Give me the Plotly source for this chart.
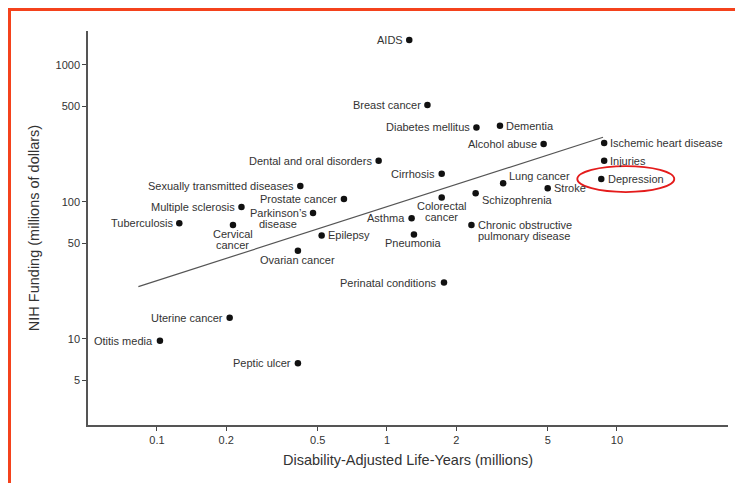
import numpy as np
import plotly.graph_objects as go

# Disease burden (DALYs, millions) vs NIH funding (millions of dollars)
diseases = [
    "AIDS", "Breast cancer", "Diabetes mellitus", "Dementia", "Alcohol abuse",
    "Ischemic heart disease", "Injuries", "Depression", "Dental and oral disorders",
    "Cirrhosis", "Lung cancer", "Stroke", "Colorectal\ncancer", "Schizophrenia",
    "Asthma", "Chronic obstructive\npulmonary disease", "Pneumonia", "Epilepsy",
    "Sexually transmitted diseases", "Prostate cancer", "Multiple sclerosis",
    "Parkinson\u2019s\ndisease", "Tuberculosis", "Cervical\ncancer", "Ovarian cancer",
    "Perinatal conditions", "Uterine cancer", "Otitis media", "Peptic ulcer",
]
daly_millions = [
    1.25, 1.50, 2.45, 3.10, 4.80,
    8.80, 8.80, 8.55, 0.92,
    1.73, 3.20, 5.00, 1.73, 2.43,
    1.28, 2.33, 1.31, 0.52,
    0.42, 0.65, 0.233,
    0.477, 0.125, 0.214, 0.41,
    1.77, 0.207, 0.103, 0.41,
]
nih_funding = [
    1520, 510, 350, 360, 265,
    270, 200, 147, 200,
    161, 137, 126, 108, 116,
    76, 68, 58, 57,
    131, 105, 92,
    83, 70, 68, 44,
    25.8, 14.3, 9.7, 6.65,
]

# Regression line (log-log), end points
trend_daly = [0.083, 8.7]
trend_funding = [24.1, 297]

x_ticks = [0.1, 0.2, 0.5, 1, 2, 5, 10]
x_ticktext = ["0.1", "0.2", "0.5", "1", "2", "5", "10"]
y_ticks = [5, 10, 50, 100, 500, 1000]
y_ticktext = ["5", "10", "50", "100", "500", "1000"]

highlighted = "Depression"

# Label placement around each dot
LEFT, RIGHT, BELOW = "left", "right", "below"
placement = {
    "AIDS": LEFT, "Breast cancer": LEFT, "Diabetes mellitus": LEFT,
    "Dementia": RIGHT, "Alcohol abuse": LEFT, "Ischemic heart disease": RIGHT,
    "Injuries": RIGHT, "Depression": RIGHT, "Dental and oral disorders": LEFT,
    "Cirrhosis": LEFT, "Lung cancer": RIGHT, "Stroke": RIGHT,
    "Colorectal\ncancer": BELOW, "Schizophrenia": RIGHT, "Asthma": LEFT,
    "Chronic obstructive\npulmonary disease": RIGHT, "Pneumonia": BELOW,
    "Epilepsy": RIGHT, "Sexually transmitted diseases": LEFT,
    "Prostate cancer": LEFT, "Multiple sclerosis": LEFT,
    "Parkinson\u2019s\ndisease": LEFT, "Tuberculosis": LEFT,
    "Cervical\ncancer": BELOW, "Ovarian cancer": BELOW,
    "Perinatal conditions": LEFT, "Uterine cancer": LEFT,
    "Otitis media": LEFT, "Peptic ulcer": LEFT,
}
# extra vertical nudges (pixels, up positive)
nudge_y = {"Lung cancer": 7.5, "Schizophrenia": -6.5}

TEXT = "#333333"
FONT = "Liberation Sans, Arial, Helvetica, sans-serif"
LINE_H = 11

W, H = 735, 483
M_L, M_R, M_T, M_B = 88, 7, 31, 58
plot_w, plot_h = W - M_L - M_R, H - M_T - M_B
X_RANGE = [-1.3, 1.483]
Y_RANGE = [0.372, 3.248]

fig = go.Figure()

fig.add_trace(go.Scatter(
    x=trend_daly, y=trend_funding, mode="lines",
    line=dict(color="#555555", width=1.2),
    hoverinfo="skip", showlegend=False,
))

fig.add_trace(go.Scatter(
    x=daly_millions, y=nih_funding, mode="markers",
    marker=dict(color="#111111", size=6.5),
    text=[d.replace("\n", " ") for d in diseases],
    hovertemplate="%{text}<br>DALYs: %{x}M<br>Funding: $%{y}M<extra></extra>",
    showlegend=False,
))

annotations = []
for name, dx, fy in zip(diseases, daly_millions, nih_funding):
    lines = name.split("\n")
    side = placement[name]
    base_dy = nudge_y.get(name, 0)
    for i, line in enumerate(lines):
        if side == LEFT:
            xanchor, xshift, yshift = "right", -6.5, base_dy - LINE_H * i
            if i > 0:
                # centre the continuation line under the first one
                xanchor, xshift = "center", -35
        elif side == RIGHT:
            xanchor, xshift, yshift = "left", 6.3, base_dy - LINE_H * i
        else:
            xanchor, xshift, yshift = "center", 0, -9 - LINE_H * i
        annotations.append(dict(
            x=np.log10(dx), y=np.log10(fy), xref="x", yref="y",
            text=line, showarrow=False, xanchor=xanchor, yanchor="middle",
            xshift=xshift, yshift=yshift, borderpad=0, borderwidth=0,
            font=dict(family=FONT, size=11, color=TEXT),
        ))

# highlight ring around the emphasised disease (offsets in pixels from its dot)
x_px_per_decade = plot_w / (X_RANGE[1] - X_RANGE[0])
y_px_per_decade = plot_h / (Y_RANGE[1] - Y_RANGE[0])
hi = diseases.index(highlighted)
hx, hy = daly_millions[hi], nih_funding[hi]
shapes = [dict(
    type="circle", xref="x", yref="y",
    x0=hx * 10 ** (-24 / x_px_per_decade), x1=hx * 10 ** (73 / x_px_per_decade),
    y0=hy * 10 ** (-13 / y_px_per_decade), y1=hy * 10 ** (13 / y_px_per_decade),
    line=dict(color="#e41b1b", width=1.8),
)]


def px_x(p):
    return (p - M_L) / plot_w


def px_y(p):
    return (H - M_B - p) / plot_h


# orange frame on the top and left edges of the page
shapes.append(dict(
    type="path", xref="paper", yref="paper",
    path=f"M {px_x(W + 5)},{px_y(9.5)} L {px_x(9.5)},{px_y(9.5)} L {px_x(9.5)},{px_y(H + 5)}",
    line=dict(color="#f4421c", width=3),
))

fig.update_layout(
    width=W, height=H,
    margin=dict(l=M_L, r=M_R, t=M_T, b=M_B),
    paper_bgcolor="white", plot_bgcolor="white",
    font=dict(family=FONT, color=TEXT),
    annotations=annotations, shapes=shapes,
    xaxis=dict(
        type="log", range=X_RANGE,
        tickvals=x_ticks, ticktext=x_ticktext,
        ticks="outside", ticklen=4, tickwidth=1, tickcolor="#444444",
        showline=True, linecolor="#555555", linewidth=1.5,
        showgrid=False, zeroline=False,
        tickfont=dict(family=FONT, size=11, color=TEXT),
        title=dict(text="Disability-Adjusted Life-Years (millions)",
                   font=dict(family=FONT, size=14.5, color=TEXT), standoff=10),
    ),
    yaxis=dict(
        type="log", range=Y_RANGE,
        tickvals=y_ticks, ticktext=y_ticktext,
        ticks="outside", ticklen=4, tickwidth=1, tickcolor="#444444",
        showline=True, linecolor="#555555", linewidth=1.5,
        showgrid=False, zeroline=False,
        tickfont=dict(family=FONT, size=11, color=TEXT),
        title=dict(text="NIH Funding (millions of dollars)",
                   font=dict(family=FONT, size=14.5, color=TEXT), standoff=12),
    ),
)

fig.write_html("out.html")
